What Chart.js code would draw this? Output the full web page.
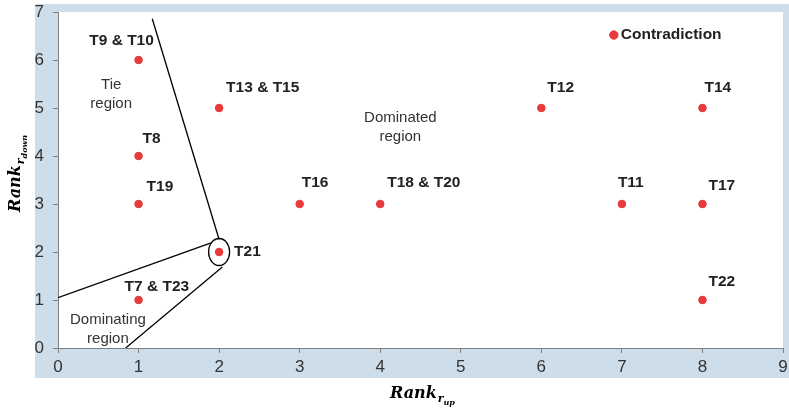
<!DOCTYPE html>
<html><head><meta charset="utf-8">
<script src="https://cdn.jsdelivr.net/npm/chart.js@4/dist/chart.umd.min.js"></script>
<style>html,body{margin:0;padding:0;background:#fff}#wrap{width:789px;height:408px}</style>
</head><body><div id="wrap"><canvas id="c" width="789" height="408"></canvas></div>
<script>
// ---- data ----
const pointLabels = ["T9 & T10","T13 & T15","T8","T19","T16","T18 & T20","T12","T14","T11","T17","T21","T7 & T23","T22"];
const rankUp   = [1,2,1,1,3,4,6,8,7,8,2,1,8];
const rankDown = [6,5,4,3,3,3,5,5,3,3,2,1,1];
const legendLabel = "Contradiction";
const legendPoint = [6.9, 6.52];
const xTicks = [0,1,2,3,4,5,6,7,8,9];
const yTicks = [0,1,2,3,4,5,6,7];
// boundary lines (data coordinates)
const lineTie = [[1.17,6.86],[2.0,2.26]];
const lineDomTop = [[0,1.05],[1.9,2.19]];
const lineDomBottom = [[0.84,0],[2.04,1.69]];
const regionLabels = [
  {text:["Tie","region"], x:0.66, y:5.3},
  {text:["Dominated","region"], x:4.25, y:4.6},
  {text:["Dominating","region"], x:0.62, y:0.4}
];
const circled = [2,2];
// label offsets in px (dx, dy, align)
const labelOffsets = [[-17,-19,'center'],[7,-20,'left'],[4,-17,'left'],[8,-17,'left'],[2,-21,'left'],[7,-21,'left'],[6,-20,'left'],[2,-20,'left'],[-4,-21,'left'],[6,-18,'left'],[15,0,'left'],[-14,-13,'left'],[6,-18,'left']];

const RED = '#e8393c';
const AX = '#7f7f7f';
const PANEL = '#cddde9';

const bgPlugin = {
  id:'bg',
  beforeDraw(chart){
    const {ctx, chartArea:a} = chart;
    ctx.save();
    ctx.fillStyle = PANEL;
    ctx.fillRect(35,4,789-35,378-4);
    ctx.fillStyle = '#fff';
    ctx.fillRect(a.left,a.top,a.right-a.left,a.bottom-a.top);
    ctx.restore();
  },
  afterDatasetsDraw(chart){
    const {ctx} = chart;
    const xs = chart.scales.x, ys = chart.scales.y;
    ctx.save();
    // ellipse around T21
    ctx.strokeStyle = '#000'; ctx.lineWidth = 1.3;
    ctx.beginPath();
    ctx.ellipse(xs.getPixelForValue(circled[0]), ys.getPixelForValue(circled[1]), 10.5, 13.5, 0, 0, Math.PI*2);
    ctx.stroke();
    // point labels
    ctx.fillStyle = '#222';
    ctx.font = 'bold 15.5px "Liberation Sans", Arial, sans-serif';
    ctx.textBaseline = 'middle';
    pointLabels.forEach((t,i)=>{
      const o = labelOffsets[i];
      ctx.textAlign = o[2];
      ctx.fillText(t, xs.getPixelForValue(rankUp[i])+o[0], ys.getPixelForValue(rankDown[i])+o[1]);
    });
    ctx.textAlign = 'left';
    ctx.fillText(legendLabel, xs.getPixelForValue(legendPoint[0])+7, ys.getPixelForValue(legendPoint[1]));
    // region labels
    ctx.font = '15px "Liberation Sans", Arial, sans-serif';
    ctx.fillStyle = '#333';
    ctx.textAlign = 'center';
    regionLabels.forEach(r=>{
      const px = xs.getPixelForValue(r.x), py = ys.getPixelForValue(r.y);
      ctx.fillText(r.text[0], px, py-9);
      ctx.fillText(r.text[1], px, py+10);
    });
    // axis titles
    ctx.fillStyle = '#000';
    ctx.textAlign = 'left';
    ctx.textBaseline = 'alphabetic';
    const big = 'bold italic 16px "DejaVu Serif", serif';
    const sub = 'bold italic 11px "DejaVu Serif", serif';
    const sub2 = 'bold italic 8px "DejaVu Serif", serif';
    function title(x,y,s1,s2){
      ctx.font = big; ctx.fillText('Rank', x, y);
      let w = ctx.measureText('Rank').width;
      ctx.font = sub; ctx.fillText(s1, x+w+1, y+4);
      let w2 = ctx.measureText(s1).width;
      ctx.font = sub2; ctx.fillText(s2, x+w+1+w2, y+7);
    }
    title(390, 398, 'r', 'up');
    ctx.save();
    ctx.translate(20, 212);
    ctx.rotate(-Math.PI/2);
    title(0, 0, 'r', 'down');
    ctx.restore();
    ctx.restore();
  }
};

new Chart(document.getElementById('c'), {
  type:'scatter',
  data:{
    datasets:[
      {data: rankUp.map((x,i)=>({x, y:rankDown[i]})), backgroundColor:RED, borderColor:RED, pointRadius:3.8, pointHoverRadius:3.8},
      {data:[{x:legendPoint[0], y:legendPoint[1]}], backgroundColor:RED, borderColor:RED, pointRadius:4.2},
      {data: lineTie.map(p=>({x:p[0],y:p[1]})), showLine:true, borderColor:'#000', borderWidth:1.3, pointRadius:0},
      {data: lineDomTop.map(p=>({x:p[0],y:p[1]})), showLine:true, borderColor:'#000', borderWidth:1.3, pointRadius:0},
      {data: lineDomBottom.map(p=>({x:p[0],y:p[1]})), showLine:true, borderColor:'#000', borderWidth:1.3, pointRadius:0}
    ]
  },
  options:{
    responsive:false, animation:false,
    layout:{padding:{top:12,right:6,left:0,bottom:0}},
    plugins:{legend:{display:false}, tooltip:{enabled:false}},
    scales:{
      x:{type:'linear', min:0, max:9,
        afterBuildTicks(s){ s.ticks = xTicks.map(v=>({value:v})); },
        afterFit(s){ s.height = 60; s.paddingLeft = 0; s.paddingRight = 0; },
        ticks:{color:'#333', font:{size:17, family:'"Liberation Sans", Arial, sans-serif'}, padding:4},
        grid:{drawOnChartArea:false, color:AX, tickLength:5},
        border:{color:AX, width:1}
      },
      y:{type:'linear', min:0, max:7,
        afterBuildTicks(s){ s.ticks = yTicks.map(v=>({value:v})); },
        afterFit(s){ s.width = 58; s.paddingTop = 0; s.paddingBottom = 0; },
        ticks:{color:'#333', font:{size:17, family:'"Liberation Sans", Arial, sans-serif'}, padding:9},
        grid:{drawOnChartArea:false, color:AX, tickLength:5},
        border:{color:AX, width:1}
      }
    }
  },
  plugins:[bgPlugin]
});
</script></body></html>
